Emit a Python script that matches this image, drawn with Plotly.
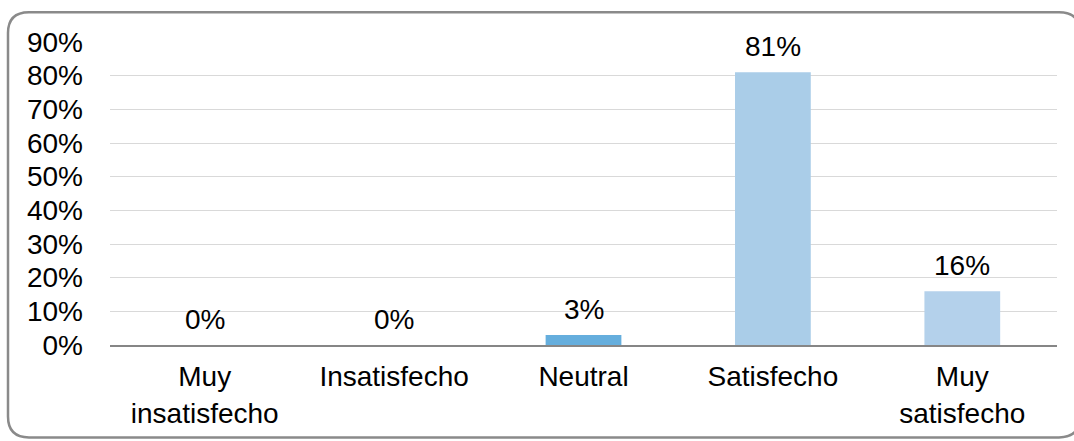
import plotly.graph_objects as go

categories = ["Muy<br>insatisfecho", "Insatisfecho", "Neutral", "Satisfecho", "Muy<br>satisfecho"]
values = [0, 0, 3, 81, 16]
bar_colors = ["#65AEDD", "#65AEDD", "#65AEDD", "#AACDE8", "#B4D1EB"]
y_ticks = [0, 10, 20, 30, 40, 50, 60, 70, 80, 90]

W, H = 1074, 441
L, R, T, B = 110, 17, 42, 94
pw, ph = W - L - R, H - T - B

FONT = "Liberation Sans, Arial, sans-serif"
FS = 28

fig = go.Figure()
fig.add_trace(go.Bar(
    x=categories, y=values, marker=dict(color=bar_colors, line=dict(width=0)),
    width=0.4, hoverinfo="skip",
))

for c, v in zip(categories, values):
    fig.add_annotation(x=c, y=v, text=f"{v}%", showarrow=False, yanchor="bottom",
                       yshift=8, font=dict(size=FS, color="#000000", family=FONT))


def px(x):
    return (x - L) / pw


def py(y):
    return (H - B - y) / ph


# rounded chart frame (runs past the right and bottom edges of the page)
x0, x1, y0, y1, r = 8, 1080, 12, 440, 21
path = (
    f"M {px(x0 + r)},{py(y0)} L {px(x1 - r)},{py(y0)} "
    f"Q {px(x1)},{py(y0)} {px(x1)},{py(y0 + r)} "
    f"L {px(x1)},{py(y1 - r)} Q {px(x1)},{py(y1)} {px(x1 - r)},{py(y1)} "
    f"L {px(x0 + r)},{py(y1)} Q {px(x0)},{py(y1)} {px(x0)},{py(y1 - r)} "
    f"L {px(x0)},{py(y0 + r)} Q {px(x0)},{py(y0)} {px(x0 + r)},{py(y0)} Z"
)
fig.add_shape(type="path", xref="paper", yref="paper", path=path,
              line=dict(color="#8A8A8A", width=2.5), layer="below")

fig.update_layout(
    width=W, height=H,
    margin=dict(l=L, r=R, t=T, b=B, pad=0),
    paper_bgcolor="white", plot_bgcolor="white",
    showlegend=False,
    bargap=0.6,
    font=dict(family=FONT, size=FS, color="#000000"),
    xaxis=dict(showgrid=False, showline=True, linecolor="#868686", linewidth=1.5,
               ticks="", ticklabelstandoff=6,
               tickfont=dict(size=FS, family=FONT), fixedrange=True),
    yaxis=dict(range=[0, 90], tickvals=y_ticks, ticktext=[f"{t}%" for t in y_ticks],
               showgrid=True, gridcolor="#D9D9D9", gridwidth=1, zeroline=False,
               showline=False, ticks="", ticklabelstandoff=26,
               tickfont=dict(size=FS, family=FONT), fixedrange=True),
)

fig.write_html("out.html")
